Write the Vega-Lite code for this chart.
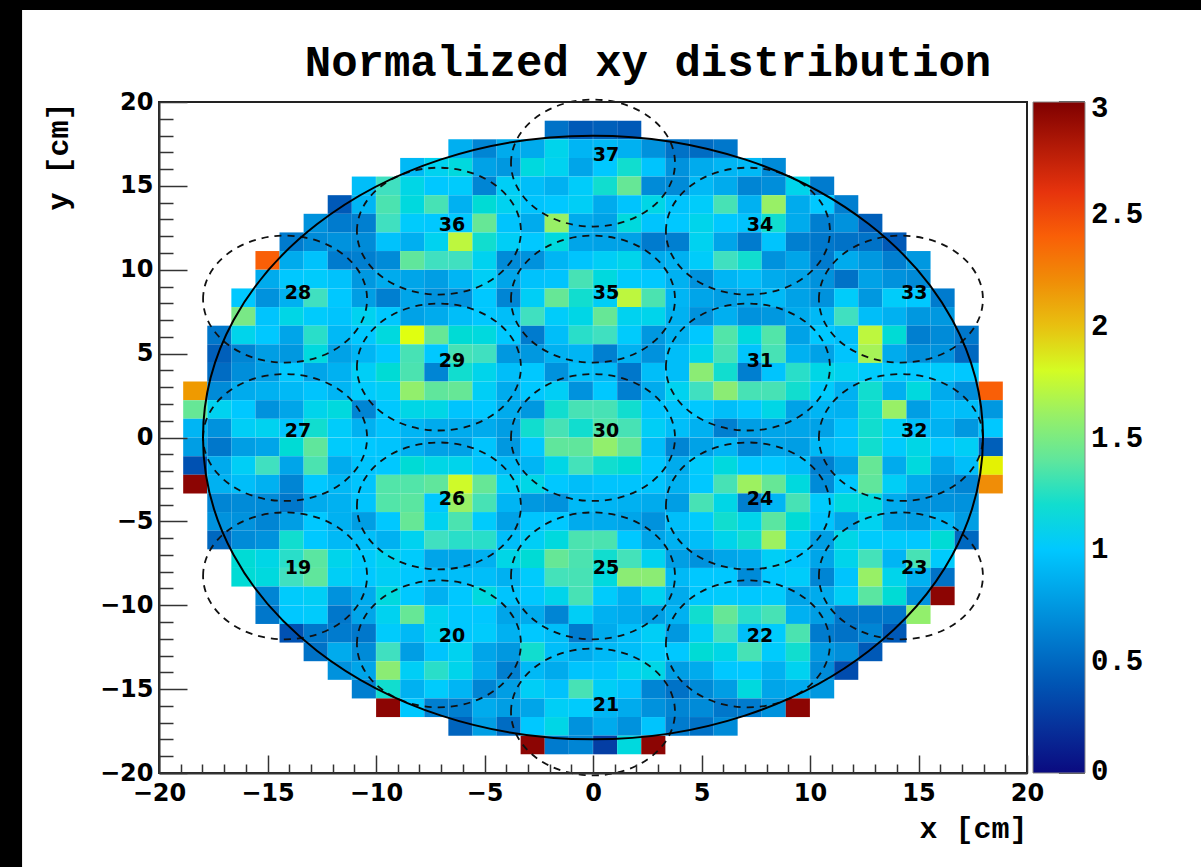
{"$schema":"https://vega.github.io/schema/vega-lite/v6.json","autosize":{"type":"none"},"padding":{"left":159,"top":102,"right":174,"bottom":94},"width":868,"height":671,"background":"black","view":{"stroke":null},
"title":{"text":"Normalized xy distribution","font":"Liberation Mono","fontWeight":"bold","fontSize":44,"color":"black","anchor":"middle","dx":55,"offset":-75},
"layer":[
{"data":{"values":[{"x":-26.31,"x2":28.5,"y":-26,"y2":25.48}]},"mark":{"type":"rect","fill":"white"},"encoding":{"x":{"field":"x","type":"quantitative","scale":{"domain":[-20,20],"nice":false,"zero":false},"axis":null},"x2":{"field":"x2"},"y":{"field":"y","type":"quantitative","scale":{"domain":[-20,20],"nice":false,"zero":false},"axis":null},"y2":{"field":"y2"}}},
{"data":{"values":[
{"x":-1.67,"y":18.33,"v":0.55},{"x":-0.56,"y":18.33,"v":0.42},{"x":0.56,"y":18.33,"v":0.45},{"x":1.67,"y":18.33,"v":0.42},
{"x":-6.11,"y":17.22,"v":0.87},{"x":-5,"y":17.22,"v":0.65},{"x":-3.89,"y":17.22,"v":0.85},{"x":-2.78,"y":17.22,"v":0.85},{"x":-1.67,"y":17.22,"v":1.1},{"x":-0.56,"y":17.22,"v":0.9},{"x":0.56,"y":17.22,"v":0.92},{"x":1.67,"y":17.22,"v":0.88},{"x":2.78,"y":17.22,"v":0.72},{"x":3.89,"y":17.22,"v":0.55},{"x":5,"y":17.22,"v":0.52},{"x":6.11,"y":17.22,"v":0.58},
{"x":-8.33,"y":16.11,"v":0.92},{"x":-7.22,"y":16.11,"v":1.08},{"x":-6.11,"y":16.11,"v":1.15},{"x":-5,"y":16.11,"v":0.8},{"x":-3.89,"y":16.11,"v":0.75},{"x":-2.78,"y":16.11,"v":1.15},{"x":-1.67,"y":16.11,"v":1.08},{"x":-0.56,"y":16.11,"v":0.82},{"x":0.56,"y":16.11,"v":1},{"x":1.67,"y":16.11,"v":1.2},{"x":2.78,"y":16.11,"v":0.98},{"x":3.89,"y":16.11,"v":0.72},{"x":5,"y":16.11,"v":0.85},{"x":6.11,"y":16.11,"v":0.9},{"x":7.22,"y":16.11,"v":0.92},{"x":8.33,"y":16.11,"v":0.68},
{"x":-10.56,"y":15,"v":0.95},{"x":-9.44,"y":15,"v":1.25},{"x":-8.33,"y":15,"v":1.12},{"x":-7.22,"y":15,"v":1},{"x":-6.11,"y":15,"v":1.02},{"x":-5,"y":15,"v":0.65},{"x":-3.89,"y":15,"v":1.05},{"x":-2.78,"y":15,"v":0.95},{"x":-1.67,"y":15,"v":0.88},{"x":-0.56,"y":15,"v":1.03},{"x":0.56,"y":15,"v":1.2},{"x":1.67,"y":15,"v":1.42},{"x":2.78,"y":15,"v":0.68},{"x":3.89,"y":15,"v":0.68},{"x":5,"y":15,"v":0.92},{"x":6.11,"y":15,"v":0.85},{"x":7.22,"y":15,"v":0.65},{"x":8.33,"y":15,"v":0.7},{"x":9.44,"y":15,"v":1.1},{"x":10.56,"y":15,"v":0.6},
{"x":-11.67,"y":13.89,"v":0.42},{"x":-10.56,"y":13.89,"v":0.9},{"x":-9.44,"y":13.89,"v":1.32},{"x":-8.33,"y":13.89,"v":1.15},{"x":-7.22,"y":13.89,"v":1.3},{"x":-6.11,"y":13.89,"v":0.88},{"x":-5,"y":13.89,"v":1.18},{"x":-3.89,"y":13.89,"v":1.08},{"x":-2.78,"y":13.89,"v":0.98},{"x":-1.67,"y":13.89,"v":1},{"x":-0.56,"y":13.89,"v":1.05},{"x":0.56,"y":13.89,"v":0.85},{"x":1.67,"y":13.89,"v":0.98},{"x":2.78,"y":13.89,"v":1.12},{"x":3.89,"y":13.89,"v":0.98},{"x":5,"y":13.89,"v":1.03},{"x":6.11,"y":13.89,"v":1.3},{"x":7.22,"y":13.89,"v":0.88},{"x":8.33,"y":13.89,"v":1.6},{"x":9.44,"y":13.89,"v":0.85},{"x":10.56,"y":13.89,"v":1},{"x":11.67,"y":13.89,"v":0.62},
{"x":-12.78,"y":12.78,"v":0.72},{"x":-11.67,"y":12.78,"v":0.6},{"x":-10.56,"y":12.78,"v":0.62},{"x":-9.44,"y":12.78,"v":1.25},{"x":-8.33,"y":12.78,"v":1.02},{"x":-7.22,"y":12.78,"v":1},{"x":-6.11,"y":12.78,"v":1},{"x":-5,"y":12.78,"v":1.42},{"x":-3.89,"y":12.78,"v":0.98},{"x":-2.78,"y":12.78,"v":0.85},{"x":-1.67,"y":12.78,"v":1.6},{"x":-0.56,"y":12.78,"v":0.85},{"x":0.56,"y":12.78,"v":0.8},{"x":1.67,"y":12.78,"v":1.15},{"x":2.78,"y":12.78,"v":0.98},{"x":3.89,"y":12.78,"v":1},{"x":5,"y":12.78,"v":1.1},{"x":6.11,"y":12.78,"v":1},{"x":7.22,"y":12.78,"v":0.97},{"x":8.33,"y":12.78,"v":1.2},{"x":9.44,"y":12.78,"v":0.85},{"x":10.56,"y":12.78,"v":0.62},{"x":11.67,"y":12.78,"v":0.72},{"x":12.78,"y":12.78,"v":0.45},
{"x":-13.89,"y":11.67,"v":0.6},{"x":-12.78,"y":11.67,"v":0.68},{"x":-11.67,"y":11.67,"v":0.72},{"x":-10.56,"y":11.67,"v":0.68},{"x":-9.44,"y":11.67,"v":0.97},{"x":-8.33,"y":11.67,"v":0.87},{"x":-7.22,"y":11.67,"v":1.08},{"x":-6.11,"y":11.67,"v":1.72},{"x":-5,"y":11.67,"v":1.2},{"x":-3.89,"y":11.67,"v":1.05},{"x":-2.78,"y":11.67,"v":1},{"x":-1.67,"y":11.67,"v":1.15},{"x":-0.56,"y":11.67,"v":0.82},{"x":0.56,"y":11.67,"v":0.8},{"x":1.67,"y":11.67,"v":0.8},{"x":2.78,"y":11.67,"v":0.6},{"x":3.89,"y":11.67,"v":0.62},{"x":5,"y":11.67,"v":1.08},{"x":6.11,"y":11.67,"v":0.82},{"x":7.22,"y":11.67,"v":0.6},{"x":8.33,"y":11.67,"v":0.98},{"x":9.44,"y":11.67,"v":0.62},{"x":10.56,"y":11.67,"v":0.58},{"x":11.67,"y":11.67,"v":0.55},{"x":12.78,"y":11.67,"v":0.55},{"x":13.89,"y":11.67,"v":0.42},
{"x":-15,"y":10.56,"v":2.4},{"x":-13.89,"y":10.56,"v":0.85},{"x":-12.78,"y":10.56,"v":0.97},{"x":-11.67,"y":10.56,"v":0.6},{"x":-10.56,"y":10.56,"v":0.62},{"x":-9.44,"y":10.56,"v":0.68},{"x":-8.33,"y":10.56,"v":1.4},{"x":-7.22,"y":10.56,"v":1.25},{"x":-6.11,"y":10.56,"v":1.25},{"x":-5,"y":10.56,"v":1.08},{"x":-3.89,"y":10.56,"v":0.68},{"x":-2.78,"y":10.56,"v":0.72},{"x":-1.67,"y":10.56,"v":0.9},{"x":-0.56,"y":10.56,"v":0.98},{"x":0.56,"y":10.56,"v":1.05},{"x":1.67,"y":10.56,"v":1.1},{"x":2.78,"y":10.56,"v":0.85},{"x":3.89,"y":10.56,"v":0.88},{"x":5,"y":10.56,"v":1.03},{"x":6.11,"y":10.56,"v":1.25},{"x":7.22,"y":10.56,"v":1.2},{"x":8.33,"y":10.56,"v":0.72},{"x":9.44,"y":10.56,"v":0.82},{"x":10.56,"y":10.56,"v":0.6},{"x":11.67,"y":10.56,"v":0.85},{"x":12.78,"y":10.56,"v":0.75},{"x":13.89,"y":10.56,"v":0.62},{"x":15,"y":10.56,"v":0.75},
{"x":-15,"y":9.44,"v":0.85},{"x":-13.89,"y":9.44,"v":1},{"x":-12.78,"y":9.44,"v":1.02},{"x":-11.67,"y":9.44,"v":0.97},{"x":-10.56,"y":9.44,"v":0.75},{"x":-9.44,"y":9.44,"v":0.85},{"x":-8.33,"y":9.44,"v":0.82},{"x":-7.22,"y":9.44,"v":0.78},{"x":-6.11,"y":9.44,"v":0.9},{"x":-5,"y":9.44,"v":1.05},{"x":-3.89,"y":9.44,"v":0.82},{"x":-2.78,"y":9.44,"v":0.97},{"x":-1.67,"y":9.44,"v":0.98},{"x":-0.56,"y":9.44,"v":1.3},{"x":0.56,"y":9.44,"v":1.15},{"x":1.67,"y":9.44,"v":1.02},{"x":2.78,"y":9.44,"v":1},{"x":3.89,"y":9.44,"v":0.88},{"x":5,"y":9.44,"v":0.72},{"x":6.11,"y":9.44,"v":0.9},{"x":7.22,"y":9.44,"v":0.95},{"x":8.33,"y":9.44,"v":0.85},{"x":9.44,"y":9.44,"v":0.8},{"x":10.56,"y":9.44,"v":0.72},{"x":11.67,"y":9.44,"v":0.55},{"x":12.78,"y":9.44,"v":0.8},{"x":13.89,"y":9.44,"v":0.72},{"x":15,"y":9.44,"v":0.68},
{"x":-16.11,"y":8.33,"v":1},{"x":-15,"y":8.33,"v":0.72},{"x":-13.89,"y":8.33,"v":0.88},{"x":-12.78,"y":8.33,"v":1.25},{"x":-11.67,"y":8.33,"v":1},{"x":-10.56,"y":8.33,"v":0.78},{"x":-9.44,"y":8.33,"v":0.62},{"x":-8.33,"y":8.33,"v":0.82},{"x":-7.22,"y":8.33,"v":0.72},{"x":-6.11,"y":8.33,"v":0.72},{"x":-5,"y":8.33,"v":1},{"x":-3.89,"y":8.33,"v":0.65},{"x":-2.78,"y":8.33,"v":1.05},{"x":-1.67,"y":8.33,"v":1.42},{"x":-0.56,"y":8.33,"v":1.2},{"x":0.56,"y":8.33,"v":1.05},{"x":1.67,"y":8.33,"v":1.72},{"x":2.78,"y":8.33,"v":1.32},{"x":3.89,"y":8.33,"v":0.9},{"x":5,"y":8.33,"v":0.82},{"x":6.11,"y":8.33,"v":0.78},{"x":7.22,"y":8.33,"v":0.82},{"x":8.33,"y":8.33,"v":0.92},{"x":9.44,"y":8.33,"v":0.8},{"x":10.56,"y":8.33,"v":0.72},{"x":11.67,"y":8.33,"v":1.03},{"x":12.78,"y":8.33,"v":0.75},{"x":13.89,"y":8.33,"v":1.03},{"x":15,"y":8.33,"v":1},{"x":16.11,"y":8.33,"v":0.6},
{"x":-16.11,"y":7.22,"v":1.48},{"x":-15,"y":7.22,"v":0.98},{"x":-13.89,"y":7.22,"v":1.12},{"x":-12.78,"y":7.22,"v":1.02},{"x":-11.67,"y":7.22,"v":0.98},{"x":-10.56,"y":7.22,"v":1.08},{"x":-9.44,"y":7.22,"v":1},{"x":-8.33,"y":7.22,"v":0.8},{"x":-7.22,"y":7.22,"v":0.85},{"x":-6.11,"y":7.22,"v":0.95},{"x":-5,"y":7.22,"v":1},{"x":-3.89,"y":7.22,"v":0.95},{"x":-2.78,"y":7.22,"v":1.25},{"x":-1.67,"y":7.22,"v":1.03},{"x":-0.56,"y":7.22,"v":1.12},{"x":0.56,"y":7.22,"v":1.42},{"x":1.67,"y":7.22,"v":1.08},{"x":2.78,"y":7.22,"v":1.1},{"x":3.89,"y":7.22,"v":0.88},{"x":5,"y":7.22,"v":0.72},{"x":6.11,"y":7.22,"v":0.87},{"x":7.22,"y":7.22,"v":0.72},{"x":8.33,"y":7.22,"v":0.75},{"x":9.44,"y":7.22,"v":0.85},{"x":10.56,"y":7.22,"v":0.92},{"x":11.67,"y":7.22,"v":1.25},{"x":12.78,"y":7.22,"v":0.95},{"x":13.89,"y":7.22,"v":0.88},{"x":15,"y":7.22,"v":0.75},{"x":16.11,"y":7.22,"v":0.75},
{"x":-17.22,"y":6.11,"v":0.58},{"x":-16.11,"y":6.11,"v":1.1},{"x":-15,"y":6.11,"v":1},{"x":-13.89,"y":6.11,"v":0.82},{"x":-12.78,"y":6.11,"v":1.22},{"x":-11.67,"y":6.11,"v":0.92},{"x":-10.56,"y":6.11,"v":1},{"x":-9.44,"y":6.11,"v":1.15},{"x":-8.33,"y":6.11,"v":1.85},{"x":-7.22,"y":6.11,"v":1.42},{"x":-6.11,"y":6.11,"v":1.18},{"x":-5,"y":6.11,"v":1.15},{"x":-3.89,"y":6.11,"v":1},{"x":-2.78,"y":6.11,"v":0.6},{"x":-1.67,"y":6.11,"v":0.95},{"x":-0.56,"y":6.11,"v":1.22},{"x":0.56,"y":6.11,"v":1.25},{"x":1.67,"y":6.11,"v":1.02},{"x":2.78,"y":6.11,"v":0.75},{"x":3.89,"y":6.11,"v":0.88},{"x":5,"y":6.11,"v":1},{"x":6.11,"y":6.11,"v":1.35},{"x":7.22,"y":6.11,"v":1.15},{"x":8.33,"y":6.11,"v":1.35},{"x":9.44,"y":6.11,"v":0.8},{"x":10.56,"y":6.11,"v":1},{"x":11.67,"y":6.11,"v":0.95},{"x":12.78,"y":6.11,"v":1.72},{"x":13.89,"y":6.11,"v":1.18},{"x":15,"y":6.11,"v":0.62},{"x":16.11,"y":6.11,"v":0.68},{"x":17.22,"y":6.11,"v":0.58},
{"x":-17.22,"y":5,"v":0.45},{"x":-16.11,"y":5,"v":0.65},{"x":-15,"y":5,"v":0.78},{"x":-13.89,"y":5,"v":0.75},{"x":-12.78,"y":5,"v":1.15},{"x":-11.67,"y":5,"v":0.8},{"x":-10.56,"y":5,"v":0.9},{"x":-9.44,"y":5,"v":1},{"x":-8.33,"y":5,"v":1.3},{"x":-7.22,"y":5,"v":1},{"x":-6.11,"y":5,"v":1.3},{"x":-5,"y":5,"v":1.25},{"x":-3.89,"y":5,"v":0.75},{"x":-2.78,"y":5,"v":0.75},{"x":-1.67,"y":5,"v":0.88},{"x":-0.56,"y":5,"v":0.9},{"x":0.56,"y":5,"v":0.62},{"x":1.67,"y":5,"v":0.88},{"x":2.78,"y":5,"v":0.72},{"x":3.89,"y":5,"v":0.95},{"x":5,"y":5,"v":1.1},{"x":6.11,"y":5,"v":1.3},{"x":7.22,"y":5,"v":0.98},{"x":8.33,"y":5,"v":1.3},{"x":9.44,"y":5,"v":0.88},{"x":10.56,"y":5,"v":0.8},{"x":11.67,"y":5,"v":0.98},{"x":12.78,"y":5,"v":1.65},{"x":13.89,"y":5,"v":0.85},{"x":15,"y":5,"v":0.7},{"x":16.11,"y":5,"v":0.72},{"x":17.22,"y":5,"v":0.5},
{"x":-17.22,"y":3.89,"v":0.52},{"x":-16.11,"y":3.89,"v":0.7},{"x":-15,"y":3.89,"v":0.78},{"x":-13.89,"y":3.89,"v":1},{"x":-12.78,"y":3.89,"v":0.82},{"x":-11.67,"y":3.89,"v":0.88},{"x":-10.56,"y":3.89,"v":1.05},{"x":-9.44,"y":3.89,"v":1.18},{"x":-8.33,"y":3.89,"v":1.32},{"x":-7.22,"y":3.89,"v":0.65},{"x":-6.11,"y":3.89,"v":1.2},{"x":-5,"y":3.89,"v":1.1},{"x":-3.89,"y":3.89,"v":0.95},{"x":-2.78,"y":3.89,"v":1},{"x":-1.67,"y":3.89,"v":0.72},{"x":-0.56,"y":3.89,"v":0.95},{"x":0.56,"y":3.89,"v":0.92},{"x":1.67,"y":3.89,"v":0.58},{"x":2.78,"y":3.89,"v":0.95},{"x":3.89,"y":3.89,"v":0.95},{"x":5,"y":3.89,"v":1.55},{"x":6.11,"y":3.89,"v":1.2},{"x":7.22,"y":3.89,"v":0.62},{"x":8.33,"y":3.89,"v":0.98},{"x":9.44,"y":3.89,"v":1.22},{"x":10.56,"y":3.89,"v":1.12},{"x":11.67,"y":3.89,"v":1.08},{"x":12.78,"y":3.89,"v":1.02},{"x":13.89,"y":3.89,"v":1.02},{"x":15,"y":3.89,"v":1},{"x":16.11,"y":3.89,"v":1.02},{"x":17.22,"y":3.89,"v":1},
{"x":-18.33,"y":2.78,"v":2.15},{"x":-17.22,"y":2.78,"v":0.68},{"x":-16.11,"y":2.78,"v":0.85},{"x":-15,"y":2.78,"v":0.88},{"x":-13.89,"y":2.78,"v":0.92},{"x":-12.78,"y":2.78,"v":0.98},{"x":-11.67,"y":2.78,"v":0.9},{"x":-10.56,"y":2.78,"v":1.02},{"x":-9.44,"y":2.78,"v":1.05},{"x":-8.33,"y":2.78,"v":1.58},{"x":-7.22,"y":2.78,"v":1.4},{"x":-6.11,"y":2.78,"v":1.42},{"x":-5,"y":2.78,"v":1.05},{"x":-3.89,"y":2.78,"v":0.85},{"x":-2.78,"y":2.78,"v":1},{"x":-1.67,"y":2.78,"v":1.05},{"x":-0.56,"y":2.78,"v":0.72},{"x":0.56,"y":2.78,"v":1},{"x":1.67,"y":2.78,"v":0.62},{"x":2.78,"y":2.78,"v":0.85},{"x":3.89,"y":2.78,"v":1.08},{"x":5,"y":2.78,"v":1.25},{"x":6.11,"y":2.78,"v":1.55},{"x":7.22,"y":2.78,"v":1.3},{"x":8.33,"y":2.78,"v":1.3},{"x":9.44,"y":2.78,"v":1.2},{"x":10.56,"y":2.78,"v":1.02},{"x":11.67,"y":2.78,"v":0.88},{"x":12.78,"y":2.78,"v":1.2},{"x":13.89,"y":2.78,"v":0.87},{"x":15,"y":2.78,"v":1.15},{"x":16.11,"y":2.78,"v":0.85},{"x":17.22,"y":2.78,"v":0.7},{"x":18.33,"y":2.78,"v":2.4},
{"x":-18.33,"y":1.67,"v":1.42},{"x":-17.22,"y":1.67,"v":1.08},{"x":-16.11,"y":1.67,"v":1},{"x":-15,"y":1.67,"v":0.72},{"x":-13.89,"y":1.67,"v":0.82},{"x":-12.78,"y":1.67,"v":1.1},{"x":-11.67,"y":1.67,"v":1.15},{"x":-10.56,"y":1.67,"v":0.65},{"x":-9.44,"y":1.67,"v":1},{"x":-8.33,"y":1.67,"v":1.12},{"x":-7.22,"y":1.67,"v":1.12},{"x":-6.11,"y":1.67,"v":0.98},{"x":-5,"y":1.67,"v":1},{"x":-3.89,"y":1.67,"v":0.85},{"x":-2.78,"y":1.67,"v":0.75},{"x":-1.67,"y":1.67,"v":1.2},{"x":-0.56,"y":1.67,"v":1.3},{"x":0.56,"y":1.67,"v":1.3},{"x":1.67,"y":1.67,"v":1.2},{"x":2.78,"y":1.67,"v":0.98},{"x":3.89,"y":1.67,"v":0.98},{"x":5,"y":1.67,"v":1},{"x":6.11,"y":1.67,"v":0.95},{"x":7.22,"y":1.67,"v":1},{"x":8.33,"y":1.67,"v":1.12},{"x":9.44,"y":1.67,"v":0.8},{"x":10.56,"y":1.67,"v":0.9},{"x":11.67,"y":1.67,"v":0.88},{"x":12.78,"y":1.67,"v":1.2},{"x":13.89,"y":1.67,"v":1.6},{"x":15,"y":1.67,"v":0.78},{"x":16.11,"y":1.67,"v":0.95},{"x":17.22,"y":1.67,"v":0.95},{"x":18.33,"y":1.67,"v":0.75},
{"x":-18.33,"y":0.56,"v":0.9},{"x":-17.22,"y":0.56,"v":0.72},{"x":-16.11,"y":0.56,"v":1.05},{"x":-15,"y":0.56,"v":1.08},{"x":-13.89,"y":0.56,"v":0.98},{"x":-12.78,"y":0.56,"v":1.2},{"x":-11.67,"y":0.56,"v":1.03},{"x":-10.56,"y":0.56,"v":0.88},{"x":-9.44,"y":0.56,"v":0.98},{"x":-8.33,"y":0.56,"v":0.9},{"x":-7.22,"y":0.56,"v":0.85},{"x":-6.11,"y":0.56,"v":0.85},{"x":-5,"y":0.56,"v":0.85},{"x":-3.89,"y":0.56,"v":0.78},{"x":-2.78,"y":0.56,"v":1.2},{"x":-1.67,"y":0.56,"v":1.3},{"x":-0.56,"y":0.56,"v":1.2},{"x":0.56,"y":0.56,"v":1.35},{"x":1.67,"y":0.56,"v":1.3},{"x":2.78,"y":0.56,"v":1.05},{"x":3.89,"y":0.56,"v":0.95},{"x":5,"y":0.56,"v":0.88},{"x":6.11,"y":0.56,"v":0.62},{"x":7.22,"y":0.56,"v":0.78},{"x":8.33,"y":0.56,"v":0.82},{"x":9.44,"y":0.56,"v":0.82},{"x":10.56,"y":0.56,"v":0.8},{"x":11.67,"y":0.56,"v":0.97},{"x":12.78,"y":0.56,"v":1.2},{"x":13.89,"y":0.56,"v":1.05},{"x":15,"y":0.56,"v":0.95},{"x":16.11,"y":0.56,"v":0.88},{"x":17.22,"y":0.56,"v":0.75},{"x":18.33,"y":0.56,"v":1},
{"x":-18.33,"y":-0.56,"v":0.78},{"x":-17.22,"y":-0.56,"v":0.58},{"x":-16.11,"y":-0.56,"v":0.78},{"x":-15,"y":-0.56,"v":0.82},{"x":-13.89,"y":-0.56,"v":1.18},{"x":-12.78,"y":-0.56,"v":1.4},{"x":-11.67,"y":-0.56,"v":1.02},{"x":-10.56,"y":-0.56,"v":1},{"x":-9.44,"y":-0.56,"v":0.98},{"x":-8.33,"y":-0.56,"v":0.88},{"x":-7.22,"y":-0.56,"v":0.8},{"x":-6.11,"y":-0.56,"v":0.8},{"x":-5,"y":-0.56,"v":0.98},{"x":-3.89,"y":-0.56,"v":0.75},{"x":-2.78,"y":-0.56,"v":1},{"x":-1.67,"y":-0.56,"v":1.4},{"x":-0.56,"y":-0.56,"v":1.4},{"x":0.56,"y":-0.56,"v":1.58},{"x":1.67,"y":-0.56,"v":1.42},{"x":2.78,"y":-0.56,"v":0.95},{"x":3.89,"y":-0.56,"v":0.65},{"x":5,"y":-0.56,"v":0.8},{"x":6.11,"y":-0.56,"v":0.9},{"x":7.22,"y":-0.56,"v":0.68},{"x":8.33,"y":-0.56,"v":0.82},{"x":9.44,"y":-0.56,"v":0.78},{"x":10.56,"y":-0.56,"v":0.92},{"x":11.67,"y":-0.56,"v":0.97},{"x":12.78,"y":-0.56,"v":1.2},{"x":13.89,"y":-0.56,"v":1.02},{"x":15,"y":-0.56,"v":1.12},{"x":16.11,"y":-0.56,"v":1},{"x":17.22,"y":-0.56,"v":1.05},{"x":18.33,"y":-0.56,"v":0.45},
{"x":-18.33,"y":-1.67,"v":0.38},{"x":-17.22,"y":-1.67,"v":0.85},{"x":-16.11,"y":-1.67,"v":1.05},{"x":-15,"y":-1.67,"v":1.25},{"x":-13.89,"y":-1.67,"v":0.82},{"x":-12.78,"y":-1.67,"v":1.32},{"x":-11.67,"y":-1.67,"v":0.85},{"x":-10.56,"y":-1.67,"v":0.98},{"x":-9.44,"y":-1.67,"v":1},{"x":-8.33,"y":-1.67,"v":1.18},{"x":-7.22,"y":-1.67,"v":1.12},{"x":-6.11,"y":-1.67,"v":1.1},{"x":-5,"y":-1.67,"v":0.98},{"x":-3.89,"y":-1.67,"v":0.92},{"x":-2.78,"y":-1.67,"v":0.9},{"x":-1.67,"y":-1.67,"v":1.12},{"x":-0.56,"y":-1.67,"v":1.28},{"x":0.56,"y":-1.67,"v":1.2},{"x":1.67,"y":-1.67,"v":1.18},{"x":2.78,"y":-1.67,"v":1},{"x":3.89,"y":-1.67,"v":0.85},{"x":5,"y":-1.67,"v":1.02},{"x":6.11,"y":-1.67,"v":1.15},{"x":7.22,"y":-1.67,"v":1},{"x":8.33,"y":-1.67,"v":1},{"x":9.44,"y":-1.67,"v":0.95},{"x":10.56,"y":-1.67,"v":0.62},{"x":11.67,"y":-1.67,"v":0.8},{"x":12.78,"y":-1.67,"v":1.42},{"x":13.89,"y":-1.67,"v":0.85},{"x":15,"y":-1.67,"v":1.15},{"x":16.11,"y":-1.67,"v":0.82},{"x":17.22,"y":-1.67,"v":0.95},{"x":18.33,"y":-1.67,"v":1.88},
{"x":-18.33,"y":-2.78,"v":2.95},{"x":-17.22,"y":-2.78,"v":0.88},{"x":-16.11,"y":-2.78,"v":0.95},{"x":-15,"y":-2.78,"v":0.88},{"x":-13.89,"y":-2.78,"v":0.65},{"x":-12.78,"y":-2.78,"v":1},{"x":-11.67,"y":-2.78,"v":0.92},{"x":-10.56,"y":-2.78,"v":0.98},{"x":-9.44,"y":-2.78,"v":1.35},{"x":-8.33,"y":-2.78,"v":1.35},{"x":-7.22,"y":-2.78,"v":1.4},{"x":-6.11,"y":-2.78,"v":1.78},{"x":-5,"y":-2.78,"v":1.42},{"x":-3.89,"y":-2.78,"v":1.05},{"x":-2.78,"y":-2.78,"v":1.12},{"x":-1.67,"y":-2.78,"v":1},{"x":-0.56,"y":-2.78,"v":0.95},{"x":0.56,"y":-2.78,"v":0.98},{"x":1.67,"y":-2.78,"v":0.98},{"x":2.78,"y":-2.78,"v":0.98},{"x":3.89,"y":-2.78,"v":0.88},{"x":5,"y":-2.78,"v":1},{"x":6.11,"y":-2.78,"v":1.3},{"x":7.22,"y":-2.78,"v":1.62},{"x":8.33,"y":-2.78,"v":1.42},{"x":9.44,"y":-2.78,"v":1.15},{"x":10.56,"y":-2.78,"v":0.68},{"x":11.67,"y":-2.78,"v":1},{"x":12.78,"y":-2.78,"v":1.4},{"x":13.89,"y":-2.78,"v":1.05},{"x":15,"y":-2.78,"v":0.85},{"x":16.11,"y":-2.78,"v":0.72},{"x":17.22,"y":-2.78,"v":0.65},{"x":18.33,"y":-2.78,"v":2.2},
{"x":-17.22,"y":-3.89,"v":0.65},{"x":-16.11,"y":-3.89,"v":0.68},{"x":-15,"y":-3.89,"v":0.68},{"x":-13.89,"y":-3.89,"v":0.58},{"x":-12.78,"y":-3.89,"v":0.85},{"x":-11.67,"y":-3.89,"v":0.88},{"x":-10.56,"y":-3.89,"v":0.98},{"x":-9.44,"y":-3.89,"v":1.35},{"x":-8.33,"y":-3.89,"v":1.38},{"x":-7.22,"y":-3.89,"v":1},{"x":-6.11,"y":-3.89,"v":1.6},{"x":-5,"y":-3.89,"v":1.3},{"x":-3.89,"y":-3.89,"v":0.9},{"x":-2.78,"y":-3.89,"v":0.75},{"x":-1.67,"y":-3.89,"v":0.72},{"x":-0.56,"y":-3.89,"v":0.92},{"x":0.56,"y":-3.89,"v":0.9},{"x":1.67,"y":-3.89,"v":0.88},{"x":2.78,"y":-3.89,"v":0.85},{"x":3.89,"y":-3.89,"v":0.78},{"x":5,"y":-3.89,"v":1.3},{"x":6.11,"y":-3.89,"v":1.12},{"x":7.22,"y":-3.89,"v":0.62},{"x":8.33,"y":-3.89,"v":0.9},{"x":9.44,"y":-3.89,"v":1.3},{"x":10.56,"y":-3.89,"v":1.02},{"x":11.67,"y":-3.89,"v":1.15},{"x":12.78,"y":-3.89,"v":1.15},{"x":13.89,"y":-3.89,"v":0.85},{"x":15,"y":-3.89,"v":0.72},{"x":16.11,"y":-3.89,"v":0.72},{"x":17.22,"y":-3.89,"v":0.72},
{"x":-17.22,"y":-5,"v":0.72},{"x":-16.11,"y":-5,"v":0.72},{"x":-15,"y":-5,"v":0.65},{"x":-13.89,"y":-5,"v":0.78},{"x":-12.78,"y":-5,"v":1},{"x":-11.67,"y":-5,"v":0.88},{"x":-10.56,"y":-5,"v":0.78},{"x":-9.44,"y":-5,"v":1},{"x":-8.33,"y":-5,"v":1.42},{"x":-7.22,"y":-5,"v":1.08},{"x":-6.11,"y":-5,"v":1.32},{"x":-5,"y":-5,"v":1.02},{"x":-3.89,"y":-5,"v":0.8},{"x":-2.78,"y":-5,"v":0.98},{"x":-1.67,"y":-5,"v":1},{"x":-0.56,"y":-5,"v":0.85},{"x":0.56,"y":-5,"v":0.85},{"x":1.67,"y":-5,"v":0.82},{"x":2.78,"y":-5,"v":0.72},{"x":3.89,"y":-5,"v":0.95},{"x":5,"y":-5,"v":1.02},{"x":6.11,"y":-5,"v":1.2},{"x":7.22,"y":-5,"v":1.1},{"x":8.33,"y":-5,"v":1.38},{"x":9.44,"y":-5,"v":1.18},{"x":10.56,"y":-5,"v":0.98},{"x":11.67,"y":-5,"v":0.82},{"x":12.78,"y":-5,"v":1.08},{"x":13.89,"y":-5,"v":0.82},{"x":15,"y":-5,"v":0.78},{"x":16.11,"y":-5,"v":0.9},{"x":17.22,"y":-5,"v":0.78},
{"x":-17.22,"y":-6.11,"v":0.5},{"x":-16.11,"y":-6.11,"v":0.68},{"x":-15,"y":-6.11,"v":0.72},{"x":-13.89,"y":-6.11,"v":1.2},{"x":-12.78,"y":-6.11,"v":1},{"x":-11.67,"y":-6.11,"v":0.92},{"x":-10.56,"y":-6.11,"v":0.95},{"x":-9.44,"y":-6.11,"v":0.88},{"x":-8.33,"y":-6.11,"v":1.08},{"x":-7.22,"y":-6.11,"v":1.25},{"x":-6.11,"y":-6.11,"v":1.22},{"x":-5,"y":-6.11,"v":1.22},{"x":-3.89,"y":-6.11,"v":0.95},{"x":-2.78,"y":-6.11,"v":1.05},{"x":-1.67,"y":-6.11,"v":1.15},{"x":-0.56,"y":-6.11,"v":1.32},{"x":0.56,"y":-6.11,"v":1.32},{"x":1.67,"y":-6.11,"v":1},{"x":2.78,"y":-6.11,"v":0.82},{"x":3.89,"y":-6.11,"v":0.88},{"x":5,"y":-6.11,"v":0.95},{"x":6.11,"y":-6.11,"v":1.1},{"x":7.22,"y":-6.11,"v":1.2},{"x":8.33,"y":-6.11,"v":1.62},{"x":9.44,"y":-6.11,"v":1.05},{"x":10.56,"y":-6.11,"v":0.78},{"x":11.67,"y":-6.11,"v":1.12},{"x":12.78,"y":-6.11,"v":1.02},{"x":13.89,"y":-6.11,"v":1.02},{"x":15,"y":-6.11,"v":1},{"x":16.11,"y":-6.11,"v":1.18},{"x":17.22,"y":-6.11,"v":0.5},
{"x":-16.11,"y":-7.22,"v":1.18},{"x":-15,"y":-7.22,"v":1.12},{"x":-13.89,"y":-7.22,"v":1.22},{"x":-12.78,"y":-7.22,"v":1.38},{"x":-11.67,"y":-7.22,"v":1.1},{"x":-10.56,"y":-7.22,"v":1.02},{"x":-9.44,"y":-7.22,"v":1.08},{"x":-8.33,"y":-7.22,"v":1.02},{"x":-7.22,"y":-7.22,"v":0.82},{"x":-6.11,"y":-7.22,"v":0.82},{"x":-5,"y":-7.22,"v":0.88},{"x":-3.89,"y":-7.22,"v":1.12},{"x":-2.78,"y":-7.22,"v":1.18},{"x":-1.67,"y":-7.22,"v":1.42},{"x":-0.56,"y":-7.22,"v":1.32},{"x":0.56,"y":-7.22,"v":1.2},{"x":1.67,"y":-7.22,"v":1.28},{"x":2.78,"y":-7.22,"v":1.08},{"x":3.89,"y":-7.22,"v":0.78},{"x":5,"y":-7.22,"v":0.72},{"x":6.11,"y":-7.22,"v":0.82},{"x":7.22,"y":-7.22,"v":0.85},{"x":8.33,"y":-7.22,"v":1.05},{"x":9.44,"y":-7.22,"v":0.98},{"x":10.56,"y":-7.22,"v":0.82},{"x":11.67,"y":-7.22,"v":1.1},{"x":12.78,"y":-7.22,"v":1.28},{"x":13.89,"y":-7.22,"v":0.9},{"x":15,"y":-7.22,"v":1.3},{"x":16.11,"y":-7.22,"v":1.02},
{"x":-16.11,"y":-8.33,"v":1.18},{"x":-15,"y":-8.33,"v":1.15},{"x":-13.89,"y":-8.33,"v":1.25},{"x":-12.78,"y":-8.33,"v":1.4},{"x":-11.67,"y":-8.33,"v":1.05},{"x":-10.56,"y":-8.33,"v":1},{"x":-9.44,"y":-8.33,"v":1.05},{"x":-8.33,"y":-8.33,"v":1},{"x":-7.22,"y":-8.33,"v":0.92},{"x":-6.11,"y":-8.33,"v":0.95},{"x":-5,"y":-8.33,"v":0.95},{"x":-3.89,"y":-8.33,"v":0.88},{"x":-2.78,"y":-8.33,"v":1.02},{"x":-1.67,"y":-8.33,"v":1.28},{"x":-0.56,"y":-8.33,"v":1.3},{"x":0.56,"y":-8.33,"v":1.15},{"x":1.67,"y":-8.33,"v":1.55},{"x":2.78,"y":-8.33,"v":1.55},{"x":3.89,"y":-8.33,"v":0.92},{"x":5,"y":-8.33,"v":1},{"x":6.11,"y":-8.33,"v":1},{"x":7.22,"y":-8.33,"v":0.68},{"x":8.33,"y":-8.33,"v":1},{"x":9.44,"y":-8.33,"v":1.03},{"x":10.56,"y":-8.33,"v":0.65},{"x":11.67,"y":-8.33,"v":0.98},{"x":12.78,"y":-8.33,"v":1.6},{"x":13.89,"y":-8.33,"v":1.1},{"x":15,"y":-8.33,"v":0.88},{"x":16.11,"y":-8.33,"v":0.55},
{"x":-15,"y":-9.44,"v":0.65},{"x":-13.89,"y":-9.44,"v":1.02},{"x":-12.78,"y":-9.44,"v":1.05},{"x":-11.67,"y":-9.44,"v":0.72},{"x":-10.56,"y":-9.44,"v":0.85},{"x":-9.44,"y":-9.44,"v":1.15},{"x":-8.33,"y":-9.44,"v":1},{"x":-7.22,"y":-9.44,"v":0.88},{"x":-6.11,"y":-9.44,"v":1},{"x":-5,"y":-9.44,"v":1.15},{"x":-3.89,"y":-9.44,"v":0.98},{"x":-2.78,"y":-9.44,"v":1},{"x":-1.67,"y":-9.44,"v":1.1},{"x":-0.56,"y":-9.44,"v":1.3},{"x":0.56,"y":-9.44,"v":1.02},{"x":1.67,"y":-9.44,"v":0.88},{"x":2.78,"y":-9.44,"v":1.08},{"x":3.89,"y":-9.44,"v":0.85},{"x":5,"y":-9.44,"v":1},{"x":6.11,"y":-9.44,"v":1.02},{"x":7.22,"y":-9.44,"v":1},{"x":8.33,"y":-9.44,"v":1.02},{"x":9.44,"y":-9.44,"v":0.82},{"x":10.56,"y":-9.44,"v":0.85},{"x":11.67,"y":-9.44,"v":1.05},{"x":12.78,"y":-9.44,"v":1.38},{"x":13.89,"y":-9.44,"v":1.18},{"x":15,"y":-9.44,"v":0.72},{"x":16.11,"y":-9.44,"v":2.95},
{"x":-15,"y":-10.56,"v":0.58},{"x":-13.89,"y":-10.56,"v":1},{"x":-12.78,"y":-10.56,"v":1.02},{"x":-11.67,"y":-10.56,"v":0.58},{"x":-10.56,"y":-10.56,"v":0.82},{"x":-9.44,"y":-10.56,"v":1.08},{"x":-8.33,"y":-10.56,"v":1.42},{"x":-7.22,"y":-10.56,"v":1.08},{"x":-6.11,"y":-10.56,"v":1},{"x":-5,"y":-10.56,"v":1},{"x":-3.89,"y":-10.56,"v":0.82},{"x":-2.78,"y":-10.56,"v":0.85},{"x":-1.67,"y":-10.56,"v":0.65},{"x":-0.56,"y":-10.56,"v":1.05},{"x":0.56,"y":-10.56,"v":0.88},{"x":1.67,"y":-10.56,"v":0.85},{"x":2.78,"y":-10.56,"v":0.78},{"x":3.89,"y":-10.56,"v":0.88},{"x":5,"y":-10.56,"v":1.2},{"x":6.11,"y":-10.56,"v":1.42},{"x":7.22,"y":-10.56,"v":1.22},{"x":8.33,"y":-10.56,"v":1.3},{"x":9.44,"y":-10.56,"v":0.88},{"x":10.56,"y":-10.56,"v":0.78},{"x":11.67,"y":-10.56,"v":0.58},{"x":12.78,"y":-10.56,"v":0.58},{"x":13.89,"y":-10.56,"v":0.58},{"x":15,"y":-10.56,"v":1.58},
{"x":-13.89,"y":-11.67,"v":0.38},{"x":-12.78,"y":-11.67,"v":0.58},{"x":-11.67,"y":-11.67,"v":0.6},{"x":-10.56,"y":-11.67,"v":0.58},{"x":-9.44,"y":-11.67,"v":1.02},{"x":-8.33,"y":-11.67,"v":0.92},{"x":-7.22,"y":-11.67,"v":1.08},{"x":-6.11,"y":-11.67,"v":1},{"x":-5,"y":-11.67,"v":1.02},{"x":-3.89,"y":-11.67,"v":0.88},{"x":-2.78,"y":-11.67,"v":1},{"x":-1.67,"y":-11.67,"v":0.95},{"x":-0.56,"y":-11.67,"v":0.6},{"x":0.56,"y":-11.67,"v":0.85},{"x":1.67,"y":-11.67,"v":0.95},{"x":2.78,"y":-11.67,"v":1.05},{"x":3.89,"y":-11.67,"v":0.75},{"x":5,"y":-11.67,"v":1.05},{"x":6.11,"y":-11.67,"v":1.28},{"x":7.22,"y":-11.67,"v":0.95},{"x":8.33,"y":-11.67,"v":1.02},{"x":9.44,"y":-11.67,"v":1.32},{"x":10.56,"y":-11.67,"v":0.6},{"x":11.67,"y":-11.67,"v":0.55},{"x":12.78,"y":-11.67,"v":0.65},{"x":13.89,"y":-11.67,"v":0.42},
{"x":-12.78,"y":-12.78,"v":0.55},{"x":-11.67,"y":-12.78,"v":0.85},{"x":-10.56,"y":-12.78,"v":0.68},{"x":-9.44,"y":-12.78,"v":1.25},{"x":-8.33,"y":-12.78,"v":0.78},{"x":-7.22,"y":-12.78,"v":0.98},{"x":-6.11,"y":-12.78,"v":1.08},{"x":-5,"y":-12.78,"v":0.82},{"x":-3.89,"y":-12.78,"v":0.75},{"x":-2.78,"y":-12.78,"v":1.2},{"x":-1.67,"y":-12.78,"v":0.95},{"x":-0.56,"y":-12.78,"v":0.85},{"x":0.56,"y":-12.78,"v":0.92},{"x":1.67,"y":-12.78,"v":0.95},{"x":2.78,"y":-12.78,"v":1.02},{"x":3.89,"y":-12.78,"v":1},{"x":5,"y":-12.78,"v":1.18},{"x":6.11,"y":-12.78,"v":1.12},{"x":7.22,"y":-12.78,"v":1.3},{"x":8.33,"y":-12.78,"v":1.02},{"x":9.44,"y":-12.78,"v":1.2},{"x":10.56,"y":-12.78,"v":0.75},{"x":11.67,"y":-12.78,"v":0.7},{"x":12.78,"y":-12.78,"v":0.42},
{"x":-11.67,"y":-13.89,"v":0.72},{"x":-10.56,"y":-13.89,"v":0.82},{"x":-9.44,"y":-13.89,"v":1.55},{"x":-8.33,"y":-13.89,"v":1.05},{"x":-7.22,"y":-13.89,"v":1.22},{"x":-6.11,"y":-13.89,"v":1.1},{"x":-5,"y":-13.89,"v":0.85},{"x":-3.89,"y":-13.89,"v":0.62},{"x":-2.78,"y":-13.89,"v":0.92},{"x":-1.67,"y":-13.89,"v":0.85},{"x":-0.56,"y":-13.89,"v":0.98},{"x":0.56,"y":-13.89,"v":0.98},{"x":1.67,"y":-13.89,"v":1.08},{"x":2.78,"y":-13.89,"v":1.12},{"x":3.89,"y":-13.89,"v":0.78},{"x":5,"y":-13.89,"v":0.85},{"x":6.11,"y":-13.89,"v":1},{"x":7.22,"y":-13.89,"v":1},{"x":8.33,"y":-13.89,"v":0.88},{"x":9.44,"y":-13.89,"v":1.08},{"x":10.56,"y":-13.89,"v":0.68},{"x":11.67,"y":-13.89,"v":0.35},
{"x":-10.56,"y":-15,"v":0.62},{"x":-9.44,"y":-15,"v":1.2},{"x":-8.33,"y":-15,"v":0.88},{"x":-7.22,"y":-15,"v":1.02},{"x":-6.11,"y":-15,"v":0.9},{"x":-5,"y":-15,"v":0.65},{"x":-3.89,"y":-15,"v":0.78},{"x":-2.78,"y":-15,"v":1.05},{"x":-1.67,"y":-15,"v":0.97},{"x":-0.56,"y":-15,"v":1.3},{"x":0.56,"y":-15,"v":1.05},{"x":1.67,"y":-15,"v":0.97},{"x":2.78,"y":-15,"v":0.65},{"x":3.89,"y":-15,"v":0.55},{"x":5,"y":-15,"v":0.68},{"x":6.11,"y":-15,"v":0.78},{"x":7.22,"y":-15,"v":1.15},{"x":8.33,"y":-15,"v":0.82},{"x":9.44,"y":-15,"v":0.85},{"x":10.56,"y":-15,"v":0.75},
{"x":-9.44,"y":-16.11,"v":2.95},{"x":-8.33,"y":-16.11,"v":1},{"x":-7.22,"y":-16.11,"v":0.62},{"x":-6.11,"y":-16.11,"v":0.62},{"x":-5,"y":-16.11,"v":0.85},{"x":-3.89,"y":-16.11,"v":0.78},{"x":-2.78,"y":-16.11,"v":0.82},{"x":-1.67,"y":-16.11,"v":1.05},{"x":-0.56,"y":-16.11,"v":1.02},{"x":0.56,"y":-16.11,"v":0.9},{"x":1.67,"y":-16.11,"v":0.85},{"x":2.78,"y":-16.11,"v":0.72},{"x":3.89,"y":-16.11,"v":0.65},{"x":5,"y":-16.11,"v":0.68},{"x":6.11,"y":-16.11,"v":0.58},{"x":7.22,"y":-16.11,"v":0.6},{"x":8.33,"y":-16.11,"v":0.72},{"x":9.44,"y":-16.11,"v":2.95},
{"x":-6.11,"y":-17.22,"v":0.48},{"x":-5,"y":-17.22,"v":0.78},{"x":-3.89,"y":-17.22,"v":0.52},{"x":-2.78,"y":-17.22,"v":1},{"x":-1.67,"y":-17.22,"v":1.12},{"x":-0.56,"y":-17.22,"v":0.72},{"x":0.56,"y":-17.22,"v":0.85},{"x":1.67,"y":-17.22,"v":0.72},{"x":2.78,"y":-17.22,"v":0.98},{"x":3.89,"y":-17.22,"v":0.6},{"x":5,"y":-17.22,"v":0.55},{"x":6.11,"y":-17.22,"v":0.68},
{"x":-2.78,"y":-18.33,"v":2.95},{"x":-1.67,"y":-18.33,"v":0.6},{"x":-0.56,"y":-18.33,"v":0.65},{"x":0.56,"y":-18.33,"v":0.28},{"x":1.67,"y":-18.33,"v":1.15},{"x":2.78,"y":-18.33,"v":2.95}
]},"mark":{"type":"rect","width":24.11,"height":18.64},"encoding":{"x":{"field":"x","type":"quantitative","scale":{"domain":[-20,20],"nice":false,"zero":false},"axis":{"values":[-20,-15,-10,-5,0,5,10,15,20],"orient":"bottom","grid":false,"domain":true,"domainColor":"#333","domainWidth":2,"tickColor":"#333","tickWidth":1.5,"tickSize":-18,"labelPadding":26,"labelFlush":false,"labelOverlap":false,"labelFont":"DejaVu Sans","labelFontWeight":"bold","labelFontSize":24,"labelColor":"black","zindex":1,"title":"x [cm]","titleFont":"Liberation Mono","titleFontWeight":"bold","titleFontSize":30,"titleColor":"black","titleAnchor":"end","titlePadding":8}},"y":{"field":"y","type":"quantitative","scale":{"domain":[-20,20],"nice":false,"zero":false},"axis":{"values":[-20,-15,-10,-5,0,5,10,15,20],"orient":"left","grid":false,"domain":true,"domainColor":"#333","domainWidth":2,"tickColor":"#333","tickWidth":1.5,"tickSize":-28,"labelPadding":34,"labelFlush":false,"labelOverlap":false,"labelFont":"DejaVu Sans","labelFontWeight":"bold","labelFontSize":24,"labelColor":"black","zindex":1,"title":"y [cm]","titleFont":"Liberation Mono","titleFontWeight":"bold","titleFontSize":30,"titleColor":"black","titleAnchor":"end","titlePadding":26}},"color":{"field":"v","type":"quantitative","scale":{"domain":[0,0.25,0.5,0.75,1,1.25,1.5,1.75,1.85,2,2.25,2.5,2.75,3],"range":["#0a0a80","#0838a0","#0068c0","#0098e0","#00c8ff","#40e0c0","#80e880","#c8f830","#e0ff10","#e8c010","#f08010","#ff4010","#c02008","#7f0000"]},"legend":{"orient":"none","legendX":874,"legendY":0,"direction":"vertical","title":null,"gradientLength":671,"gradientThickness":52,"gradientStrokeColor":"#888","gradientStrokeWidth":1,"values":[0,0.5,1,1.5,2,2.5,3],"labelExpr":"datum.value==0||datum.value==3?'':format(datum.value,'~g')","labelFont":"Liberation Mono","labelFontWeight":"bold","labelFontSize":29,"labelColor":"black","labelOffset":6,"labelOverlap":false}}}},
{"data":{"values":[{"x":0,"y":16.36,"id":37},{"x":-7.1,"y":12.3,"id":36},{"x":7.14,"y":12.3,"id":34},{"x":-14.19,"y":8.25,"id":28},{"x":0,"y":8.25,"id":35},{"x":14.19,"y":8.25,"id":33},{"x":-7.1,"y":4.2,"id":29},{"x":7.14,"y":4.2,"id":31},{"x":-14.19,"y":0,"id":27},{"x":0,"y":0,"id":30},{"x":14.19,"y":0,"id":32},{"x":-7.1,"y":-4.08,"id":26},{"x":7.14,"y":-4.08,"id":24},{"x":-14.19,"y":-8.25,"id":19},{"x":0,"y":-8.25,"id":25},{"x":14.19,"y":-8.25,"id":23},{"x":-7.1,"y":-12.3,"id":20},{"x":7.14,"y":-12.3,"id":22},{"x":0,"y":-16.36,"id":21}]},"mark":{"type":"point","shape":"M-1,0C-1,-0.4275,-0.5523,-0.774,0,-0.774C0.5523,-0.774,1,-0.4275,1,0C1,0.4275,0.5523,0.774,0,0.774C-0.5523,0.774,-1,0.4275,-1,0Z","filled":false,"size":26896,"stroke":"#111","strokeWidth":1.8,"strokeDash":[7,6],"opacity":1},"encoding":{"x":{"field":"x","type":"quantitative","scale":{"domain":[-20,20],"nice":false,"zero":false},"axis":{"values":[-19,-18,-17,-16,-14,-13,-12,-11,-9,-8,-7,-6,-4,-3,-2,-1,1,2,3,4,6,7,8,9,11,12,13,14,16,17,18,19],"orient":"bottom","grid":false,"domain":false,"labels":false,"tickColor":"#333","tickWidth":1.5,"tickSize":-9,"zindex":1,"title":null}},"y":{"field":"y","type":"quantitative","scale":{"domain":[-20,20],"nice":false,"zero":false},"axis":{"values":[-19,-18,-17,-16,-14,-13,-12,-11,-9,-8,-7,-6,-4,-3,-2,-1,1,2,3,4,6,7,8,9,11,12,13,14,16,17,18,19],"orient":"left","grid":false,"domain":false,"labels":false,"tickColor":"#333","tickWidth":1.5,"tickSize":-14,"zindex":1,"title":null}}}},
{"data":{"values":[{"x":0,"y":0}]},"mark":{"type":"point","shape":"M-1,0C-1,-0.4275,-0.5523,-0.774,0,-0.774C0.5523,-0.774,1,-0.4275,1,0C1,0.4275,0.5523,0.774,0,0.774C-0.5523,0.774,-1,0.4275,-1,0Z","filled":false,"size":608400,"stroke":"black","strokeWidth":2,"opacity":1},"encoding":{"x":{"field":"x","type":"quantitative","axis":null},"y":{"field":"y","type":"quantitative","axis":null}}},
{"data":{"values":[{"x":0.6,"y":16.84,"t":"37"},{"x":-6.5,"y":12.66,"t":"36"},{"x":7.7,"y":12.66,"t":"34"},{"x":-13.6,"y":8.61,"t":"28"},{"x":0.6,"y":8.61,"t":"35"},{"x":14.8,"y":8.61,"t":"33"},{"x":-6.5,"y":4.56,"t":"29"},{"x":7.7,"y":4.56,"t":"31"},{"x":-13.6,"y":0.39,"t":"27"},{"x":0.6,"y":0.39,"t":"30"},{"x":14.8,"y":0.39,"t":"32"},{"x":-6.5,"y":-3.67,"t":"26"},{"x":7.7,"y":-3.67,"t":"24"},{"x":-13.6,"y":-7.78,"t":"19"},{"x":0.6,"y":-7.78,"t":"25"},{"x":14.8,"y":-7.78,"t":"23"},{"x":-6.5,"y":-11.83,"t":"20"},{"x":7.7,"y":-11.83,"t":"22"},{"x":0.6,"y":-15.94,"t":"21"}]},"mark":{"type":"text","font":"DejaVu Sans","fontWeight":"bold","fontSize":19,"color":"black","align":"center","baseline":"middle"},"encoding":{"x":{"field":"x","type":"quantitative","axis":null},"y":{"field":"y","type":"quantitative","axis":null},"text":{"field":"t"}}},
{"data":{"values":[{"x":22.95,"y":19.64,"t":"3"},{"x":22.95,"y":-19.87,"t":"0"}]},"mark":{"type":"text","font":"Liberation Mono","fontWeight":"bold","fontSize":29,"color":"black","align":"left","baseline":"middle"},"encoding":{"x":{"field":"x","type":"quantitative","axis":null},"y":{"field":"y","type":"quantitative","axis":null},"text":{"field":"t"}}},
{"data":{"values":[{"x":-20,"x2":20,"y":-20,"y2":20}]},"mark":{"type":"rect","fill":"transparent","stroke":"#222","strokeWidth":2},"encoding":{"x":{"field":"x","type":"quantitative","axis":null},"x2":{"field":"x2"},"y":{"field":"y","type":"quantitative","axis":null},"y2":{"field":"y2"}}},
{"data":{"values":[{"a":21.47,"b":22.67,"y":-20},{"a":21.47,"b":22.67,"y":-13.33},{"a":21.47,"b":22.67,"y":-6.67},{"a":21.47,"b":22.67,"y":0},{"a":21.47,"b":22.67,"y":6.67},{"a":21.47,"b":22.67,"y":13.33},{"a":21.47,"b":22.67,"y":20}]},"mark":{"type":"rule","color":"black","strokeWidth":1.5},"encoding":{"x":{"field":"a","type":"quantitative","axis":null},"x2":{"field":"b"},"y":{"field":"y","type":"quantitative","axis":null}}}
],
"resolve":{"axis":{"x":"independent","y":"independent"}}}
